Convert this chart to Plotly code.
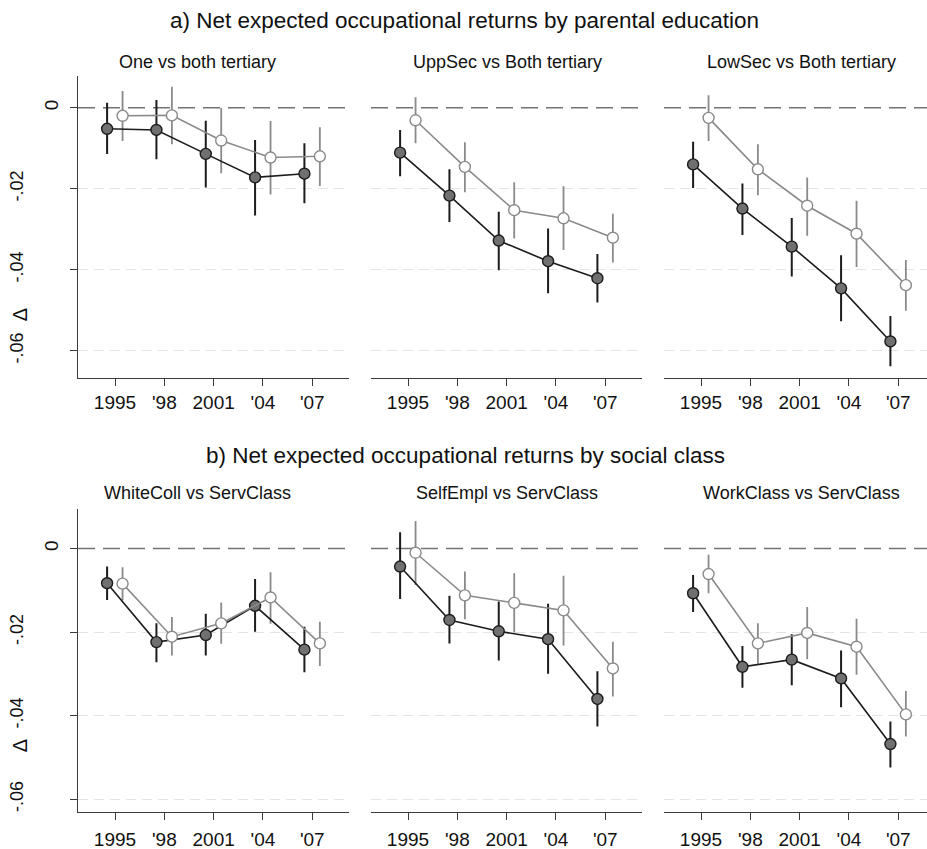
import plotly.graph_objects as go

# Survey waves and axis tick labels
years = [1995, 1998, 2001, 2004, 2007]
year_labels = ["1995", "'98", "2001", "'04", "'07"]

# Panel titles
titles_edu = ["One vs both tertiary", "UppSec vs Both tertiary", "LowSec vs Both tertiary"]
titles_cls = ["WhiteColl vs ServClass", "SelfEmpl vs ServClass", "WorkClass vs ServClass"]

# a) parental education: estimates (est) with lower/upper confidence bounds
# dark series
edu_one_dark = [-0.0052, -0.0055, -0.0114, -0.0172, -0.0163]
edu_one_dark_lo = [-0.0114, -0.0127, -0.0197, -0.0266, -0.0236]
edu_one_dark_hi = [0.0012, 0.0019, -0.0032, -0.0080, -0.0088]
edu_upp_dark = [-0.0111, -0.0217, -0.0328, -0.0379, -0.0421]
edu_upp_dark_lo = [-0.0169, -0.0282, -0.0401, -0.0458, -0.0481]
edu_upp_dark_hi = [-0.0055, -0.0152, -0.0257, -0.0298, -0.0361]
edu_low_dark = [-0.0140, -0.0249, -0.0343, -0.0446, -0.0577]
edu_low_dark_lo = [-0.0198, -0.0314, -0.0417, -0.0527, -0.0638]
edu_low_dark_hi = [-0.0084, -0.0187, -0.0272, -0.0364, -0.0514]
# light series
edu_one_light = [-0.0020, -0.0019, -0.0081, -0.0123, -0.0120]
edu_one_light_lo = [-0.0082, -0.0090, -0.0162, -0.0214, -0.0193]
edu_one_light_hi = [0.0041, 0.0052, -0.0001, -0.0033, -0.0048]
edu_upp_light = [-0.0031, -0.0146, -0.0253, -0.0273, -0.0321]
edu_upp_light_lo = [-0.0088, -0.0209, -0.0323, -0.0351, -0.0382]
edu_upp_light_hi = [0.0026, -0.0085, -0.0184, -0.0194, -0.0262]
edu_low_light = [-0.0025, -0.0152, -0.0242, -0.0311, -0.0438]
edu_low_light_lo = [-0.0082, -0.0216, -0.0316, -0.0393, -0.0501]
edu_low_light_hi = [0.0031, -0.0090, -0.0172, -0.0230, -0.0376]

# b) social class
cls_white_dark = [-0.0083, -0.0224, -0.0207, -0.0137, -0.0242]
cls_white_dark_lo = [-0.0123, -0.0272, -0.0256, -0.0199, -0.0296]
cls_white_dark_hi = [-0.0043, -0.0179, -0.0156, -0.0073, -0.0187]
cls_self_dark = [-0.0043, -0.0171, -0.0198, -0.0217, -0.0360]
cls_self_dark_lo = [-0.0121, -0.0227, -0.0268, -0.0300, -0.0426]
cls_self_dark_hi = [0.0039, -0.0113, -0.0127, -0.0132, -0.0294]
cls_work_dark = [-0.0107, -0.0283, -0.0266, -0.0311, -0.0468]
cls_work_dark_lo = [-0.0152, -0.0333, -0.0327, -0.0380, -0.0524]
cls_work_dark_hi = [-0.0063, -0.0233, -0.0205, -0.0244, -0.0414]
cls_white_light = [-0.0084, -0.0211, -0.0179, -0.0117, -0.0227]
cls_white_light_lo = [-0.0124, -0.0256, -0.0228, -0.0180, -0.0281]
cls_white_light_hi = [-0.0045, -0.0164, -0.0129, -0.0057, -0.0175]
cls_self_light = [-0.0010, -0.0112, -0.0130, -0.0148, -0.0287]
cls_self_light_lo = [-0.0087, -0.0169, -0.0201, -0.0232, -0.0354]
cls_self_light_hi = [0.0066, -0.0055, -0.0059, -0.0065, -0.0223]
cls_work_light = [-0.0061, -0.0227, -0.0202, -0.0235, -0.0397]
cls_work_light_lo = [-0.0107, -0.0276, -0.0265, -0.0302, -0.0450]
cls_work_light_hi = [-0.0015, -0.0179, -0.0140, -0.0168, -0.0341]

panels = [
    (edu_one_dark, edu_one_dark_lo, edu_one_dark_hi, edu_one_light, edu_one_light_lo, edu_one_light_hi),
    (edu_upp_dark, edu_upp_dark_lo, edu_upp_dark_hi, edu_upp_light, edu_upp_light_lo, edu_upp_light_hi),
    (edu_low_dark, edu_low_dark_lo, edu_low_dark_hi, edu_low_light, edu_low_light_lo, edu_low_light_hi),
    (cls_white_dark, cls_white_dark_lo, cls_white_dark_hi, cls_white_light, cls_white_light_lo, cls_white_light_hi),
    (cls_self_dark, cls_self_dark_lo, cls_self_dark_hi, cls_self_light, cls_self_light_lo, cls_self_light_hi),
    (cls_work_dark, cls_work_dark_lo, cls_work_dark_hi, cls_work_light, cls_work_light_lo, cls_work_light_hi),
]

W, H = 927, 849
FONT = "Liberation Sans, Arial, sans-serif"
DARK = "#1c1c1c"
DARK_FILL = "#707070"
LIGHT = "#8a8a8a"
AXIS = "#3a3a3a"
DX_DARK, DX_LIGHT = -0.48, 0.46

# plot-area geometry (pixels)
col_px = [(78, 349.3), (371, 642.3), (664, 927)]
row_px = [(75.7, 378.3), (509.3, 811.7)]
row_ranges = [(-0.0668, 0.0079), (-0.0630, 0.0094)]
px_per_year = 271.3 / 16.5
x0 = 1992.75


def px_x(p):
    return p / W


def px_y(p):
    return 1 - p / H


fig = go.Figure()
layout = dict(
    width=W, height=H, margin=dict(l=0, r=0, t=0, b=0),
    paper_bgcolor="white", plot_bgcolor="white", showlegend=False,
    font=dict(family=FONT, color="#111111"),
)

annotations = []
shapes = []

for i, (d, dlo, dhi, l, llo, lhi) in enumerate(panels):
    r, c = divmod(i, 3)
    n = i + 1
    xa = "x" if n == 1 else f"x{n}"
    ya = "y" if n == 1 else f"y{n}"
    xl = (col_px[c][1] - col_px[c][0]) / px_per_year

    xd = [yr + DX_DARK for yr in years]
    xlg = [yr + DX_LIGHT for yr in years]

    # confidence spikes
    for xs, est, lo, hi, col, w in [(xd, d, dlo, dhi, DARK, 2.0), (xlg, l, llo, lhi, LIGHT, 1.8)]:
        fig.add_trace(go.Scatter(
            x=xs, y=est, mode="markers", xaxis=xa, yaxis=ya,
            marker=dict(size=1, opacity=0),
            error_y=dict(type="data", symmetric=False,
                         array=[h - e for h, e in zip(hi, est)],
                         arrayminus=[e - lo_ for e, lo_ in zip(est, lo)],
                         color=col, thickness=w, width=0),
            hoverinfo="skip"))
    # point estimates
    fig.add_trace(go.Scatter(
        x=xd, y=d, mode="lines+markers", xaxis=xa, yaxis=ya,
        line=dict(color=DARK, width=1.6),
        marker=dict(size=11, color=DARK_FILL, line=dict(color=DARK, width=1.4))))
    fig.add_trace(go.Scatter(
        x=xlg, y=l, mode="lines+markers", xaxis=xa, yaxis=ya,
        line=dict(color=LIGHT, width=1.6),
        marker=dict(size=11, color="white", line=dict(color=LIGHT, width=1.4))))

    lo_r, hi_r = row_ranges[r]
    layout[f"xaxis{n if n > 1 else ''}"] = dict(
        domain=[px_x(col_px[c][0]), px_x(col_px[c][1])],
        range=[x0, x0 + xl], anchor=ya,
        tickvals=years, ticktext=year_labels,
        ticks="outside", ticklen=7, tickwidth=1.3, tickcolor=AXIS,
        showline=True, linecolor=AXIS, linewidth=1.3,
        showgrid=False, zeroline=False,
        tickfont=dict(size=19, color="#111111"),
        ticklabelstandoff=(0 if r == 0 else 3),
    )
    layout[f"yaxis{n if n > 1 else ''}"] = dict(
        domain=[px_y(row_px[r][1]), px_y(row_px[r][0])],
        range=[lo_r, hi_r], anchor=xa,
        tickvals=[-0.06, -0.04, -0.02], ticktext=["-.06", "-.04", "-.02"],
        showgrid=True, gridcolor="#e4e4e4", gridwidth=1.2, griddash="10px,6px",
        zeroline=False,
        showline=(c == 0), linecolor=AXIS, linewidth=1.3,
        ticks="outside" if c == 0 else "", ticklen=7, tickwidth=1.3, tickcolor=AXIS,
        showticklabels=(c == 0), tickangle=-90,
        tickfont=dict(size=18, color="#111111"),
        ticklabelstandoff=40,
    )

    # dashed reference line at zero
    shapes.append(dict(
        type="line", xref=f"{xa} domain", yref=ya, x0=0, x1=1, y0=0, y1=0,
        line=dict(color="#737373", width=1.6, dash="17px,8px"), layer="below"))

    title = (titles_edu + titles_cls)[i]
    tx = [197, 507, 801][c]
    ty = [62, 493][r]
    annotations.append(dict(
        text=title, x=px_x(tx), y=px_y(ty), xref="paper", yref="paper",
        xanchor="center", yanchor="middle", showarrow=False,
        font=dict(size=18, family=FONT, color="#111111")))

# zero label on an overlay axis for the first panel of each row
for k, (base_y, base_x, r) in enumerate([("y", "x", 0), ("y4", "x4", 1)]):
    n = 7 + k
    fig.add_trace(go.Scatter(x=[None], y=[None], xaxis=base_x, yaxis=f"y{n}",
                             hoverinfo="skip"))
    layout[f"yaxis{n}"] = dict(
        overlaying=base_y, anchor=base_x, side="left",
        range=list(row_ranges[r]),
        tickvals=[0], ticktext=["0"],
        ticks="outside", ticklen=7, tickwidth=1.3, tickcolor=AXIS,
        showgrid=False, zeroline=False, showline=False,
        tickangle=-90, tickfont=dict(size=19, color="#111111"),
        ticklabelstandoff=4,
    )

# section titles
annotations.append(dict(
    text="a) Net expected occupational returns by parental education",
    x=px_x(464), y=px_y(21), xref="paper", yref="paper",
    xanchor="center", yanchor="middle", showarrow=False,
    font=dict(size=22.5, family=FONT, color="#111111")))
annotations.append(dict(
    text="b) Net expected occupational returns by social class",
    x=px_x(465), y=px_y(455), xref="paper", yref="paper",
    xanchor="center", yanchor="middle", showarrow=False,
    font=dict(size=22.5, family=FONT, color="#111111")))

# y-axis title
for yc in (314.7, 745.8):
    annotations.append(dict(
        text="Δ", x=px_x(19.5), y=px_y(yc), xref="paper", yref="paper",
        xanchor="center", yanchor="middle", showarrow=False, textangle=-90,
        font=dict(size=20, family=FONT, color="#111111")))

layout["annotations"] = annotations
layout["shapes"] = shapes
fig.update_layout(**layout)
fig.write_html("out.html")
